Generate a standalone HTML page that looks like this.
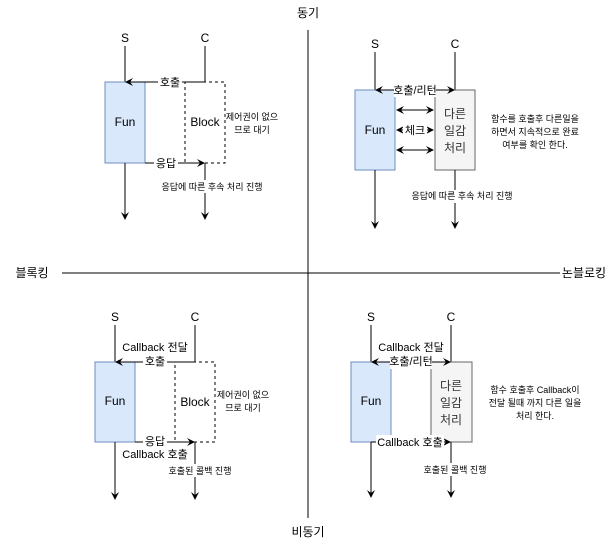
<!DOCTYPE html>
<html><head><meta charset="utf-8"><style>
body{margin:0;background:#fff}
svg{display:block;font-family:"Liberation Sans","Noto Sans CJK KR",sans-serif}
</style></head><body>
<svg width="615" height="546" viewBox="0 0 615 546">
<defs>
<marker id="ah" markerWidth="8" markerHeight="8" refX="7" refY="4" orient="auto-start-reverse" markerUnits="userSpaceOnUse"><path d="M0,0 L8,4 L0,8 L3,4 Z" fill="#000"/></marker>
</defs>
<g stroke="#000" stroke-width="1">
<line x1="308" y1="30" x2="308" y2="518"/>
<line x1="62" y1="273" x2="560" y2="273"/>
</g>
<g font-size="12" text-anchor="middle" fill="#000">
<text x="308" y="17">동기</text>
<text x="308" y="536">비동기</text>
<text x="32" y="277">블록킹</text>
<text x="584" y="277">논블로킹</text>
</g>

<!-- Top-left: sync blocking -->
<g font-size="11" text-anchor="middle">
<text x="125" y="42" font-size="12">S</text><text x="205" y="42" font-size="12">C</text>
<line x1="125" y1="46" x2="125" y2="82" stroke="#000"/>
<line x1="205" y1="46" x2="205" y2="82" stroke="#000"/>
<rect x="105" y="82" width="40" height="81" fill="#dae8fc" stroke="#6c8ebf"/>
<text x="125" y="126" font-size="12">Fun</text>
<rect x="185" y="82" width="40" height="81" fill="#fff" stroke="#000" stroke-dasharray="3,3"/>
<text x="205" y="126" font-size="12">Block</text>
<line x1="205" y1="82" x2="126" y2="82" stroke="#000" marker-end="url(#ah)"/>
<rect x="158" y="75" width="24" height="14" fill="#fff"/><text x="170" y="86">호출</text>
<line x1="145" y1="163" x2="204" y2="163" stroke="#000" marker-end="url(#ah)"/>
<rect x="154" y="156" width="24" height="14" fill="#fff"/><text x="166" y="167">응답</text>
<text x="252" y="120" font-size="9">제어권이 없으</text><text x="252" y="133" font-size="9">므로 대기</text>
<line x1="125" y1="163" x2="125" y2="219" stroke="#000" marker-end="url(#ah)"/>
<line x1="205" y1="163" x2="205" y2="219" stroke="#000" marker-end="url(#ah)"/>
<rect x="150" y="180" width="120" height="13" fill="#fff"/><text x="212" y="190" font-size="9">응답에 따른 후속 처리 진행</text>
</g>

<!-- Top-right: sync non-blocking -->
<g font-size="11" text-anchor="middle">
<text x="375" y="48" font-size="12">S</text><text x="455" y="48" font-size="12">C</text>
<line x1="375" y1="52" x2="375" y2="90" stroke="#000"/>
<line x1="455" y1="52" x2="455" y2="90" stroke="#000"/>
<rect x="355" y="90" width="40" height="80" fill="#dae8fc" stroke="#6c8ebf"/>
<text x="375" y="134" font-size="12">Fun</text>
<rect x="435" y="90" width="40" height="80" fill="#f5f5f5" stroke="#666"/>
<text x="455" y="118" font-size="12" fill="#333">다른</text><text x="455" y="135" font-size="12" fill="#333">일감</text><text x="455" y="152" font-size="12" fill="#333">처리</text>
<line x1="376" y1="90" x2="454" y2="90" stroke="#000" marker-start="url(#ah)" marker-end="url(#ah)"/>
<rect x="394" y="83" width="42" height="14" fill="#fff"/><text x="415" y="94">호출/리턴</text>
<line x1="397" y1="110" x2="433" y2="110" stroke="#000" marker-start="url(#ah)" marker-end="url(#ah)"/>
<line x1="397" y1="130" x2="433" y2="130" stroke="#000" marker-start="url(#ah)" marker-end="url(#ah)"/>
<rect x="403" y="123" width="24" height="14" fill="#fff"/><text x="415" y="134">체크</text>
<line x1="397" y1="150" x2="433" y2="150" stroke="#000" marker-start="url(#ah)" marker-end="url(#ah)"/>
<text x="535" y="122" font-size="9">함수를 호출후 다른일을</text><text x="535" y="135" font-size="9">하면서 지속적으로 완료</text><text x="535" y="148" font-size="9">여부를 확인 한다.</text>
<line x1="375" y1="170" x2="375" y2="228" stroke="#000" marker-end="url(#ah)"/>
<line x1="455" y1="170" x2="455" y2="228" stroke="#000" marker-end="url(#ah)"/>
<rect x="400" y="190" width="120" height="13" fill="#fff"/><text x="462" y="199" font-size="9">응답에 따른 후속 처리 진행</text>
</g>

<!-- Bottom-left: async blocking -->
<g font-size="11" text-anchor="middle">
<text x="115" y="321" font-size="12">S</text><text x="195" y="321" font-size="12">C</text>
<line x1="115" y1="325" x2="115" y2="362" stroke="#000"/>
<line x1="195" y1="325" x2="195" y2="362" stroke="#000"/>
<rect x="95" y="362" width="40" height="80" fill="#dae8fc" stroke="#6c8ebf"/>
<text x="115" y="405" font-size="12">Fun</text>
<rect x="175" y="362" width="40" height="80" fill="#fff" stroke="#000" stroke-dasharray="3,3"/>
<text x="195" y="406" font-size="12">Block</text>
<line x1="195" y1="362" x2="116" y2="362" stroke="#000" marker-end="url(#ah)"/>
<text x="155" y="351">Callback 전달</text>
<rect x="143" y="355" width="24" height="14" fill="#fff"/><text x="155" y="365">호출</text>
<line x1="135" y1="442" x2="194" y2="442" stroke="#000" marker-end="url(#ah)"/>
<rect x="143" y="435" width="24" height="14" fill="#fff"/><text x="155" y="445">응답</text>
<text x="155" y="458">Callback 호출</text>
<text x="243" y="398" font-size="9">제어권이 없으</text><text x="243" y="411" font-size="9">므로 대기</text>
<line x1="115" y1="442" x2="115" y2="499" stroke="#000" marker-end="url(#ah)"/>
<line x1="195" y1="442" x2="195" y2="499" stroke="#000" marker-end="url(#ah)"/>
<rect x="160" y="464" width="80" height="13" fill="#fff"/><text x="200" y="474" font-size="9">호출된 콜백 진행</text>
</g>

<!-- Bottom-right: async non-blocking -->
<g font-size="11" text-anchor="middle">
<text x="371" y="321" font-size="12">S</text><text x="451" y="321" font-size="12">C</text>
<line x1="371" y1="325" x2="371" y2="362" stroke="#000"/>
<line x1="451" y1="325" x2="451" y2="362" stroke="#000"/>
<rect x="351" y="362" width="40" height="80" fill="#dae8fc" stroke="#6c8ebf"/>
<text x="371" y="405" font-size="12">Fun</text>
<rect x="431" y="362" width="41" height="80" fill="#f5f5f5" stroke="#666"/>
<text x="451" y="390" font-size="12" fill="#333">다른</text><text x="451" y="407" font-size="12" fill="#333">일감</text><text x="451" y="424" font-size="12" fill="#333">처리</text>
<line x1="372" y1="362" x2="450" y2="362" stroke="#000" marker-start="url(#ah)" marker-end="url(#ah)"/>
<text x="411" y="351">Callback 전달</text>
<rect x="390" y="355" width="42" height="14" fill="#fff"/><text x="411" y="365">호출/리턴</text>
<line x1="371" y1="442" x2="450" y2="442" stroke="#000" marker-end="url(#ah)"/>
<rect x="376" y="435" width="68" height="14" fill="#fff"/><text x="410" y="446">Callback 호출</text>
<text x="535" y="393" font-size="9">함수 호출후 Callback이</text><text x="535" y="406" font-size="9">전달 될때 까지 다른 일을</text><text x="535" y="419" font-size="9">처리 한다.</text>
<line x1="371" y1="442" x2="371" y2="497" stroke="#000" marker-end="url(#ah)"/>
<line x1="451" y1="442" x2="451" y2="497" stroke="#000" marker-end="url(#ah)"/>
<rect x="414" y="463" width="82" height="13" fill="#fff"/><text x="455" y="473" font-size="9">호출된 콜백 진행</text>
</g>
</svg>
</body></html>
